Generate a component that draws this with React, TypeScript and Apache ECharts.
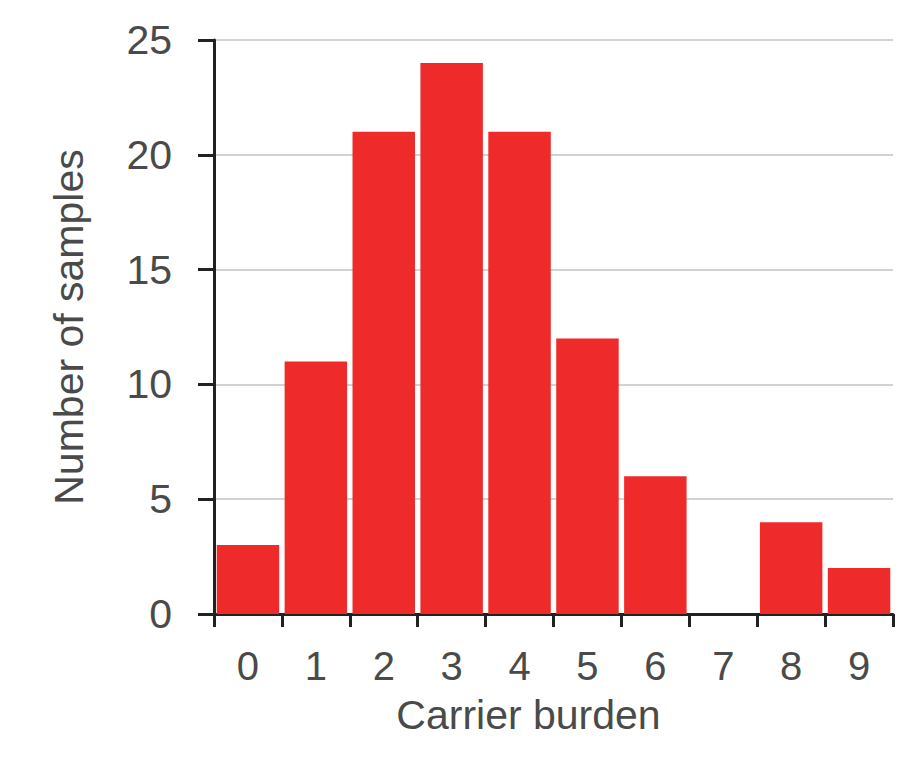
import React, { useEffect, useRef } from "react";
import * as echarts from "echarts";

const categories = ["0", "1", "2", "3", "4", "5", "6", "7", "8", "9"];
const sampleCounts = [3, 11, 21, 24, 21, 12, 6, 0, 4, 2];
const yMin = 0;
const yMax = 25;
const yStep = 5;

const FONT = "'Liberation Sans', Arial, Helvetica, sans-serif";
const TEXT_COLOR = "#4a4a4a";

export default function App() {
  const ref = useRef<HTMLDivElement>(null);
  useEffect(() => {
    if (!ref.current) return;
    const chart = echarts.init(ref.current, null, { renderer: "svg" });
    chart.setOption({
      animation: false,
      backgroundColor: "#ffffff",
      grid: { left: 214, right: 6, top: 40, bottom: 158, containLabel: false },
      xAxis: {
        type: "category",
        data: categories,
        boundaryGap: true,
        name: "Carrier burden",
        nameLocation: "middle",
        nameGap: 80,
        nameTextStyle: {
          fontFamily: FONT,
          fontSize: 41,
          color: TEXT_COLOR,
          padding: [0, 50, 0, 0],
        },
        axisLine: { show: true, lineStyle: { color: "#222", width: 3 } },
        axisTick: { show: true, alignWithLabel: false, length: 13, lineStyle: { color: "#222", width: 3 } },
        axisLabel: { fontFamily: FONT, fontSize: 40, color: TEXT_COLOR, margin: 32 },
        splitLine: { show: false },
      },
      yAxis: {
        type: "value",
        min: yMin,
        max: yMax,
        interval: yStep,
        name: "Number of samples",
        nameLocation: "middle",
        nameGap: 125,
        nameTextStyle: { fontFamily: FONT, fontSize: 41, color: TEXT_COLOR },
        axisLine: { show: true, lineStyle: { color: "#222", width: 3 } },
        axisTick: { show: true, length: 16, lineStyle: { color: "#222", width: 3 } },
        axisLabel: { fontFamily: FONT, fontSize: 41, color: TEXT_COLOR, margin: 42 },
        splitLine: { show: true, lineStyle: { color: "#d2d2d2", width: 2 } },
      },
      series: [
        {
          type: "bar",
          data: sampleCounts,
          barCategoryGap: "8%",
          itemStyle: { color: "#ee2a2a" },
        },
      ],
    });
    return () => chart.dispose();
  }, []);
  return (
    <div
      ref={ref}
      style={{ position: "fixed", left: 0, top: 0, width: 899, height: 772 }}
    />
  );
}
